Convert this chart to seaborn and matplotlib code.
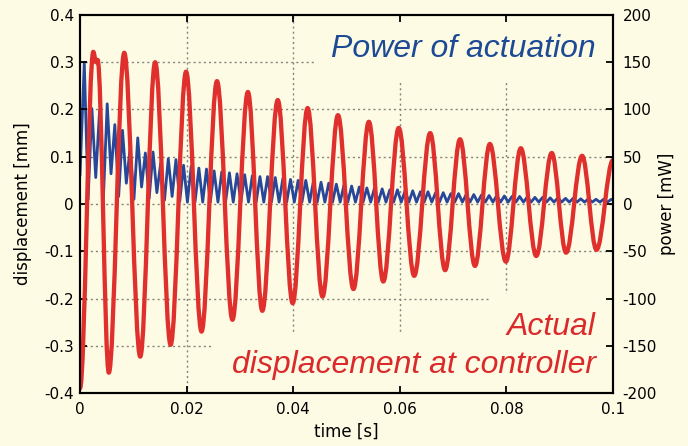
import numpy as np
import pandas as pd
import matplotlib
matplotlib.use('Agg')
import matplotlib.pyplot as plt
from matplotlib.path import Path
from matplotlib.patches import PathPatch
import seaborn as sns

# ------------------------
# Data
# ------------------------
# red: displacement extrema (time in ms, displacement in mm)
red_ms = [0.0, 2.5, 3.0, 3.3, 5.4, 8.3, 11.3, 14.1, 17.0, 19.9, 22.8, 25.7, 28.6,
          31.5, 34.2, 37.1, 39.9, 42.7, 45.5, 48.4, 51.3, 54.2, 56.9, 59.8, 62.7,
          65.7, 68.5, 71.3, 74.1, 76.9, 79.9, 82.7, 85.6, 88.5, 91.2, 94.2, 96.9, 100.0]
red_mm = [-0.39, 0.322, 0.300, 0.305, -0.357, 0.32, -0.323, 0.30, -0.298, 0.28, -0.27,
          0.26, -0.245, 0.237, -0.226, 0.22, -0.21, 0.203, -0.196, 0.188, -0.18, 0.174,
          -0.164, 0.161, -0.152, 0.150, -0.14, 0.137, -0.131, 0.127, -0.122, 0.118,
          -0.11, 0.108, -0.103, 0.102, -0.097, 0.093]

# blue: power peaks and dips (time in ms, power in mW)
blue_peak_ms = [0.80, 2.23, 3.67, 5.10, 6.53, 7.97, 9.40, 10.83, 12.26, 13.70,
                15.13, 16.56, 18.00, 19.43, 20.86, 22.30, 23.73, 25.16, 26.59, 28.03,
                29.46, 30.89, 32.33, 33.76, 35.19, 36.63, 38.06, 39.49, 40.92, 42.36,
                43.79, 45.22, 46.66, 48.09, 49.52, 50.96, 52.39, 53.82, 55.25, 56.69,
                58.12, 59.55, 60.99, 62.42, 63.85, 65.28, 66.72, 68.15, 69.58, 71.02,
                72.45, 73.88, 75.32, 76.75, 78.18, 79.61, 81.05, 82.48, 83.91, 85.35,
                86.78, 88.21, 89.64, 91.08, 92.51, 93.94, 95.38, 96.81, 98.24, 99.67]
blue_peak_mw = [150, 101, 99, 106, 84, 78, 59, 70, 54, 55,
                43, 48, 47, 41, 40, 38, 37, 35, 34, 33,
                32, 31, 30, 29, 29, 28, 27, 26, 25, 25,
                24, 23, 22, 21, 20, 19, 18, 17, 17, 16,
                15, 15, 14, 14, 13, 13, 12, 12, 11, 11,
                10, 10, 9.5, 9, 9, 8.5, 8, 8, 7.5, 7,
                7, 6.5, 6.5, 6, 6, 5.5, 5.5, 5, 5, 5]
blue_dip_ms = [0.0, 1.52, 2.95, 4.39, 5.82, 7.25, 8.69, 10.12, 11.55, 12.98, 14.42,
               15.85, 17.28, 18.72, 20.15, 21.58, 23.02, 24.45, 25.88, 27.31, 28.75,
               30.18, 31.61, 33.05, 34.48, 35.91, 37.35, 38.78, 40.21, 41.64, 43.08,
               44.51, 45.94, 47.38, 48.81, 50.24, 51.68, 53.11, 54.54, 55.97, 57.41,
               58.84, 60.27, 61.71, 63.14, 64.57, 66.00, 67.44, 68.87, 70.30, 71.74,
               73.17, 74.60, 76.04, 77.47, 78.90, 80.33, 81.77, 83.20, 84.63, 86.07,
               87.50, 88.93, 90.36, 91.80, 93.23, 94.66, 96.10, 97.53, 98.96, 100.0]
blue_dip_mw = [30, 5, 28, 6, 32, 8, 22, 5, 18, 6, 12, 4, 8, 3,
               2, 2, 2, 2, 2, 2, 2, 2, 2, 2, 2, 2, 2, 2, 2, 2, 2, 2, 2, 2,
               2, 2, 2, 2, 2, 2, 2, 2, 2, 2, 2, 2, 2, 2, 2, 2, 2, 2, 2, 2,
               2, 2, 2, 2, 2, 2, 2, 2, 2, 2, 2, 2, 2, 2, 2, 2, 4]

x_ticks = [0, 0.02, 0.04, 0.06, 0.08, 0.1]
x_labels = ['0', '0.02', '0.04', '0.06', '0.08', '0.1']
mm_ticks = [0.4, 0.3, 0.2, 0.1, 0, -0.1, -0.2, -0.3, -0.4]
mm_labels = ['0.4', '0.3', '0.2', '0.1', '0', '-0.1', '-0.2', '-0.3', '-0.4']
mw_ticks = [200, 150, 100, 50, 0, -50, -100, -150, -200]
mw_labels = ['200', '150', '100', '50', '0', '-50', '-100', '-150', '-200']

# captions: text, colour, x [s], baseline [mm]
captions = [('Power of actuation', '#1C4A94', 0.0968, 0.311),
            ('Actual', '#DA2A2C', 0.0968, -0.277),
            ('displacement at controller', '#DA2A2C', 0.0968, -0.358)]

BG = '#FDFBE4'
RED = '#E0302E'
BLUE = '#27479B'
GRID = '#85857c'

sns.set_style('ticks', rc={'axes.facecolor': BG, 'figure.facecolor': BG,
                           'axes.edgecolor': 'black', 'axes.linewidth': 1.5,
                           'text.color': 'black', 'axes.labelcolor': 'black',
                           'xtick.color': 'black', 'ytick.color': 'black'})
plt.rcParams['font.family'] = ['DejaVu Sans']
plt.rcParams['axes.unicode_minus'] = False


def smooth_path(xs, ys, k=0.36):
    # cubic segments between extrema, flat at each turning point
    verts = [(xs[0], ys[0])]
    codes = [Path.MOVETO]
    for i in range(len(xs) - 1):
        dx = xs[i + 1] - xs[i]
        verts += [(xs[i] + k * dx, ys[i]), (xs[i + 1] - k * dx, ys[i + 1]), (xs[i + 1], ys[i + 1])]
        codes += [Path.CURVE4] * 3
    return Path(verts, codes)


fig = plt.figure(figsize=(6.88, 4.46), dpi=100)
ax = fig.add_axes([0.1163, 0.1188, 0.7747, 0.8476])   # power (right axis, below)
ax2 = ax.twinx()                                       # displacement (left axis, on top)
ax.patch.set_visible(False)
ax.set_axisbelow(False)

# dotted grid
for t in x_ticks[1:-1]:
    ax.axvline(t, color=GRID, lw=1.0, ls=(0, (1.5, 2.2)), zorder=0.6)
for p in mw_ticks[1:-1]:
    ax.axhline(p, color=GRID, lw=1.0, ls=(0, (1.5, 2.2)), zorder=0.6)

# blue power
blue = pd.DataFrame({'t': np.concatenate([blue_peak_ms, blue_dip_ms]) / 1000.0,
                     'p': np.concatenate([blue_peak_mw, blue_dip_mw])}).sort_values('t')
sns.lineplot(data=blue, x='t', y='p', ax=ax, color=BLUE, lw=2.0, sort=True,
             estimator=None, zorder=2)

# red displacement
red_path = smooth_path(np.array(red_ms) / 1000.0, red_mm)
ax2.add_patch(PathPatch(red_path, facecolor='none', edgecolor=RED, lw=3.1,
                        joinstyle='round', capstyle='round', zorder=2))

ax.set_xlim(0, 0.1)
ax.set_ylim(-200, 200)
ax2.set_ylim(-0.4, 0.4)

ax.set_xticks(x_ticks, labels=x_labels)
ax.yaxis.tick_right()
ax.yaxis.set_label_position('right')
ax.set_yticks(mw_ticks, labels=mw_labels)
ax2.yaxis.tick_left()
ax2.yaxis.set_label_position('left')
ax2.set_yticks(mm_ticks, labels=mm_labels)

ax.tick_params(axis='x', direction='in', top=True, bottom=True, length=5, width=1.3,
               pad=6.5, labelsize=11)
ax.tick_params(axis='y', direction='in', right=True, left=False, length=5, width=1.3,
               pad=7, labelsize=11)
ax2.tick_params(axis='y', direction='in', left=True, right=False, length=5, width=1.3,
                pad=4.3, labelsize=11)

ax.set_xlabel('time [s]', fontsize=12, labelpad=4)
ax.set_ylabel('power [mW]', fontsize=12, labelpad=1, rotation=90)
ax2.set_ylabel('displacement [mm]', fontsize=12, labelpad=8.5)

# captions sit on the lower axes: first the backing boxes (hide the grid), then the text
cap = dict(fontsize=23, style='italic', family='Liberation Sans', ha='right',
           va='baseline', clip_on=True, transform=ax2.transData)
for s, c, x, y in captions:
    ax.text(x, y, s, color=BG, zorder=0.9,
            bbox=dict(boxstyle='square,pad=0.55', fc=BG, ec='none'), **cap)
for s, c, x, y in captions:
    ax.text(x, y, s, color=c, zorder=1.0, **cap)

for a in (ax, ax2):
    for s in a.spines.values():
        s.set_linewidth(1.5)
        s.set_color('black')

fig.savefig('out.png', dpi=100, facecolor=BG)
